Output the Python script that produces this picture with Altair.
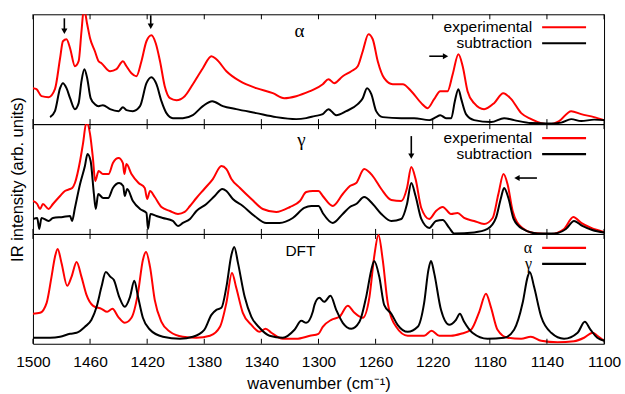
import altair as alt
import pandas as pd

# x-axis tick positions (wavenumber, cm^-1)
wn_ticks = [1500, 1460, 1420, 1380, 1340, 1300, 1260, 1220, 1180, 1140, 1100]

# alpha phase: experimental spectrum and subtraction spectrum (wavenumber, intensity)
alpha_exp = [
    (1500, 36), (1497.5, 35), (1494, 28), (1489, 27), (1484.6, 35), (1481, 66), (1479, 83),
    (1476.5, 85), (1474, 76), (1470.6, 58), (1468, 63), (1466, 93), (1464.3, 116), (1462, 100),
    (1460, 86), (1456.6, 73), (1454, 63), (1452, 61), (1446, 53), (1441.5, 55), (1437, 63),
    (1434.5, 58), (1431, 51), (1427.5, 48), (1424, 63), (1420.5, 83), (1417, 89), (1414, 81),
    (1411, 63), (1407.7, 38), (1404, 26), (1399.5, 24), (1393.7, 28), (1388, 40), (1381, 56),
    (1375, 68), (1371.5, 65), (1364.5, 53), (1355, 43), (1343.6, 36), (1332, 31), (1324, 26),
    (1315.6, 28), (1306, 33), (1302.8, 35), (1297, 40), (1293, 45), (1289, 41), (1283, 48),
    (1277, 53), (1272.5, 58), (1269, 73), (1265, 90), (1262, 85), (1258.5, 63), (1254, 46),
    (1248, 40), (1241, 40), (1235, 33), (1228, 21), (1223.6, 16), (1219, 25), (1214.7, 33),
    (1209.6, 33), (1206, 50), (1202, 70), (1199, 58), (1195.6, 33), (1191, 21), (1184, 15),
    (1177, 21), (1170.6, 31), (1165, 25), (1158, 11), (1151, 5), (1144, 1), (1138, 0),
    (1131.5, 3), (1123, 13), (1116, 10), (1107, 7), (1100, 4),
]
alpha_sub = [
    (1488, 7), (1484.6, 13), (1481, 36), (1479, 41), (1476.5, 36), (1474, 26), (1470.6, 15),
    (1468, 21), (1466, 43), (1464, 55), (1462, 46), (1459.6, 26), (1456.6, 20), (1454, 18),
    (1451, 19), (1446, 15), (1440, 13), (1437, 17), (1434.5, 14), (1430, 13), (1425, 18),
    (1420.5, 41), (1417, 47), (1413.5, 40), (1410, 23), (1406.5, 11), (1402, 6), (1395, 6),
    (1388, 9), (1381, 18), (1374.4, 23), (1367, 18), (1357.6, 15), (1343.6, 11), (1329.6, 7),
    (1315.6, 5), (1308.6, 6), (1302.8, 8), (1297, 10), (1293, 15), (1287.6, 9), (1280.6, 13),
    (1272.5, 20), (1269, 26), (1266, 36), (1263, 30), (1259.6, 13), (1255, 7), (1242, 6),
    (1233, 6), (1222.4, 4), (1217.7, 7), (1214.7, 9), (1210.7, 6), (1207, 6), (1204.5, 23),
    (1202, 35), (1200, 25), (1196.7, 10), (1191, 4), (1179, 2), (1170, 6), (1163, 4),
    (1151, 1), (1139.6, 0.5), (1130, 1.5), (1123, 5), (1116, 3), (1107, 4.5), (1100, 4),
]

# gamma phase: experimental spectrum and subtraction spectrum
gamma_exp = [
    (1500, 33), (1497, 30), (1495, 25), (1493, 30), (1489, 25), (1486, 30), (1481, 38),
    (1477.6, 43), (1474, 45), (1472.5, 46), (1470.6, 51), (1467, 73), (1465, 90), (1462.5, 112),
    (1460, 100), (1458, 76), (1456.4, 53), (1454, 63), (1451, 60), (1447, 60), (1444, 71),
    (1440, 76), (1437, 71), (1436, 60), (1434.5, 70), (1431, 60), (1426, 51), (1421.7, 46),
    (1420, 35), (1418, 43), (1414.7, 37), (1410, 27), (1404, 23), (1398.4, 20), (1393.7, 22),
    (1390, 28), (1385.5, 36), (1380, 45), (1374, 55), (1368, 68), (1364.5, 65), (1361, 55),
    (1355, 46), (1347, 35), (1339, 25), (1329.6, 22), (1320, 27), (1313, 33), (1308.6, 42),
    (1304, 43), (1300, 43), (1297, 38), (1290, 28), (1283, 40), (1278, 48), (1273.6, 51),
    (1268, 65), (1262, 58), (1256, 45), (1249, 34), (1242, 33), (1238, 46), (1235, 67),
    (1232, 55), (1228, 26), (1222.4, 15), (1217.7, 23), (1213, 27), (1207.2, 20), (1202.6, 21),
    (1198, 16), (1191, 13), (1184, 10), (1178, 16), (1174, 40), (1170.4, 60), (1167.6, 50),
    (1164, 23), (1158, 7), (1149, 1), (1137, 0), (1128, 5), (1121.5, 17), (1116, 11),
    (1109, 6), (1100, 2),
]
gamma_sub = [
    (1500, 15), (1497, 16), (1495.6, 5), (1494, 16), (1489, 13), (1486, 16), (1479, 17),
    (1474, 18), (1472.6, 13), (1470.6, 26), (1467, 50), (1463.6, 68), (1461.8, 80),
    (1459.6, 73), (1457.3, 40), (1456, 25), (1454.3, 40), (1450.8, 36), (1447.3, 36),
    (1444, 46), (1439.6, 51), (1436.8, 48), (1435.7, 38), (1434, 45), (1430, 33), (1425, 25),
    (1420.5, 21), (1419.4, 5), (1417.7, 20), (1413.5, 18), (1409, 16), (1402, 13),
    (1398.4, 8), (1395, 11), (1390, 15), (1385.5, 23), (1378.5, 30), (1372.7, 38),
    (1367.4, 45), (1364.5, 43), (1360, 35), (1353, 28), (1344.8, 18), (1336.6, 11),
    (1327.3, 11), (1318, 16), (1310, 26), (1305, 28), (1300, 28), (1297, 21), (1290, 11),
    (1283, 20), (1278, 27), (1273.6, 30), (1268, 37), (1262, 30), (1256, 20), (1249, 13),
    (1242, 15), (1238, 30), (1235, 51), (1232, 38), (1228, 15), (1222.4, 6), (1217.7, 13),
    (1213, 14), (1208.4, 6), (1205, 0.5), (1191, 1.5), (1181.6, 5), (1175.7, 16),
    (1172.2, 36), (1170, 46), (1167, 36), (1163.3, 15), (1157, 5), (1146.6, 0.5),
    (1135, 0.5), (1126.7, 5), (1121, 13), (1115.2, 8), (1108.3, 4), (1100, 1.5),
]

# DFT spectra for both phases
dft_alpha = [
    (1500, 30), (1495, 31), (1490.4, 41), (1487, 67), (1484.6, 87), (1482.7, 95), (1480, 81),
    (1476, 58), (1473, 67), (1469.4, 82), (1466, 67), (1462.5, 49), (1457.8, 38), (1452, 35),
    (1448, 32), (1444.3, 35), (1440.3, 27), (1435.7, 21), (1431, 26), (1426.4, 51),
    (1423, 84), (1420.8, 92), (1418, 77), (1414.7, 44), (1410, 22), (1404, 12), (1395, 7),
    (1385.5, 6), (1376, 8), (1369, 17), (1364.5, 41), (1360.6, 71), (1357.6, 56), (1353, 31),
    (1347, 19), (1341.3, 12), (1337, 15), (1333, 11), (1325, 5), (1315.6, 5), (1306, 8),
    (1300, 10), (1297, 17), (1291, 24), (1285.3, 27), (1279.5, 38), (1274.8, 31), (1269, 26),
    (1264.3, 47), (1261, 87), (1258, 109), (1255, 84), (1251.5, 41), (1245.6, 17),
    (1237.5, 8), (1226, 8), (1220.8, 13), (1215.4, 8), (1207.2, 8), (1200.2, 10),
    (1193.2, 14), (1187.4, 32), (1182.7, 50), (1179.3, 37), (1174.6, 14), (1167.6, 6),
    (1158, 5), (1151.3, 7), (1144, 3), (1132.6, 1.5), (1121, 2.5), (1114, 6), (1108, 11),
    (1104.7, 8), (1100, 3),
]
dft_gamma = [
    (1500, 6), (1488, 6), (1481, 7), (1474, 10), (1469.4, 11), (1463.6, 17), (1459, 24),
    (1455.4, 37), (1452, 57), (1449, 72), (1445.7, 67), (1443.4, 64), (1439.6, 47),
    (1435.7, 37), (1432, 47), (1429, 63), (1426.4, 47), (1423, 26), (1418, 14), (1409, 7),
    (1397, 5), (1388, 7), (1380, 14), (1375, 29), (1371.5, 34), (1368, 36), (1364.5, 57),
    (1361, 89), (1359, 97), (1356.4, 81), (1351.7, 47), (1347, 27), (1341.3, 16),
    (1334.3, 8), (1325, 6), (1316.8, 14), (1312, 23), (1308.6, 21), (1304, 32),
    (1302.8, 39), (1299.4, 46), (1296, 42), (1291.6, 48), (1287.6, 34), (1283, 21),
    (1277, 15), (1271.3, 22), (1266.6, 47), (1263, 74), (1261, 83), (1257.4, 67), (1254, 39),
    (1249, 30), (1244.6, 19), (1237.5, 12), (1230.5, 17), (1226, 41), (1223, 74),
    (1221.2, 83), (1219, 71), (1214.2, 34), (1208.4, 19), (1203.7, 24), (1201, 30),
    (1198, 22), (1192.2, 11), (1181.6, 5), (1170, 6), (1163, 14), (1157, 41), (1153.5, 67),
    (1152, 72), (1149, 57), (1144, 27), (1137, 11), (1128, 5), (1118.5, 11), (1113.5, 22),
    (1109.4, 14), (1104.7, 6), (1100, 3),
]

# arrows marking bands: (x start, y start, x head, y head, head shape)
arrows_alpha = [
    (1478, 106, 1478, 93, "triangle-down"),
    (1417.5, 109, 1417.5, 98, "triangle-down"),
    (1222.4, 68, 1211, 68, "triangle-right"),
]
arrows_gamma = [
    (1235, 98, 1235, 78, "triangle-down"),
    (1147, 56, 1161, 56, "triangle-left"),
]

W, H = 572, 110
RED, BLACK = "#ff0000", "#000000"
FONT = "Liberation Sans"
GREEK = "Liberation Serif"
FS = 15.5
TITLE_FS = 16.5

x_scale = alt.Scale(domain=[1100, 1500], reverse=True, nice=False, zero=False)
y_scale = alt.Scale(domain=[0, 110], nice=False, zero=False)


def curve(pts, color, xa, ya):
    df = pd.DataFrame(pts, columns=["wn", "val"])
    return alt.Chart(df).mark_line(
        color=color, strokeWidth=2, clip=True, interpolate="monotone"
    ).encode(
        x=alt.X("wn:Q", scale=x_scale, axis=xa),
        y=alt.Y("val:Q", scale=y_scale, axis=ya),
    )


def ticks(xa):
    df = pd.DataFrame({"wn": wn_ticks})
    base = alt.Chart(df).mark_rule(color="black", strokeWidth=1)
    top = base.encode(x=alt.X("wn:Q", scale=x_scale, axis=xa),
                      y=alt.value(0), y2=alt.value(5))
    bottom = base.encode(x=alt.X("wn:Q", scale=x_scale, axis=xa),
                         y=alt.value(H - 5), y2=alt.value(H))
    return [top, bottom]


def arrows(spec, xa, ya):
    df = pd.DataFrame(spec, columns=["x1", "y1", "x2", "y2", "shape"])
    shaft = alt.Chart(df).mark_rule(color="black", strokeWidth=1.6).encode(
        x=alt.X("x1:Q", scale=x_scale, axis=xa), x2="x2:Q",
        y=alt.Y("y1:Q", scale=y_scale, axis=ya), y2="y2:Q",
    )
    head = alt.Chart(df).mark_point(filled=True, color="black", opacity=1, size=38).encode(
        x=alt.X("x2:Q", scale=x_scale, axis=xa),
        y=alt.Y("y2:Q", scale=y_scale, axis=ya),
        shape=alt.Shape("shape:N", scale=None),
    )
    return [shaft, head]


def label(text, x, y, font=FONT, size=FS, align="center"):
    return alt.Chart(pd.DataFrame({"t": [text]})).mark_text(
        font=font, fontSize=size, align=align, baseline="middle", color="black"
    ).encode(x=alt.value(x), y=alt.value(y), text="t:N")


def key(entries, greek=False):
    # entries: (text, y pixel, colour)
    layers = []
    for text, y, color in entries:
        layers.append(label(text, 500, y, font=GREEK if greek else FONT,
                            size=16 if greek else FS, align="right"))
        layers.append(
            alt.Chart(pd.DataFrame({"t": [text]})).mark_rule(color=color, strokeWidth=2.2)
            .encode(x=alt.value(510), x2=alt.value(554), y=alt.value(y))
        )
    return layers


top = alt.layer(
    curve(alpha_exp, RED, None, None), curve(alpha_sub, BLACK, None, None),
    *ticks(None), *arrows(arrows_alpha, None, None),
    label("α", 267, 17, font=GREEK, size=19),
    *key([("experimental", 13, RED), ("subtraction", 29, BLACK)]),
).properties(width=W, height=H)

y_axis = alt.Axis(title="IR intensity (arb. units)", labels=False, ticks=False,
                  domain=False, grid=False, titleFont=FONT, titleFontSize=TITLE_FS,
                  titleFontWeight="normal", titlePadding=7, titleColor="black")

middle = alt.layer(
    curve(gamma_exp, RED, None, y_axis), curve(gamma_sub, BLACK, None, y_axis),
    *ticks(None), *arrows(arrows_gamma, None, y_axis),
    label("γ", 269, 16, font=GREEK, size=19),
    *key([("experimental", 14, RED), ("subtraction", 30, BLACK)]),
).properties(width=W, height=H)

x_axis = alt.Axis(values=wn_ticks, format="d", ticks=False, domain=False, grid=False,
                  labelFont=FONT, labelFontSize=FS, labelPadding=11, labelFlush=False,
                  labelColor="black", title="wavenumber (cm⁻¹)", titleFont=FONT,
                  titleFontSize=TITLE_FS, titleFontWeight="normal", titlePadding=5,
                  titleColor="black")

bottom = alt.layer(
    curve(dft_alpha, RED, x_axis, None), curve(dft_gamma, BLACK, x_axis, None),
    *ticks(x_axis),
    label("DFT", 283, 17, align="right"),
    *key([("α", 14, RED), ("γ", 30, BLACK)], greek=True),
).properties(width=W, height=H)

# flush bounds keep the three plot areas stacked edge to edge
chart = alt.vconcat(top, middle, bottom, spacing=0, bounds="flush").properties(
    padding={"left": 9, "top": 13, "right": 3, "bottom": 2},
    background="white",
).configure_view(stroke="black", strokeWidth=1)

chart.save("out.html", embed_options={"renderer": "svg", "actions": False})
